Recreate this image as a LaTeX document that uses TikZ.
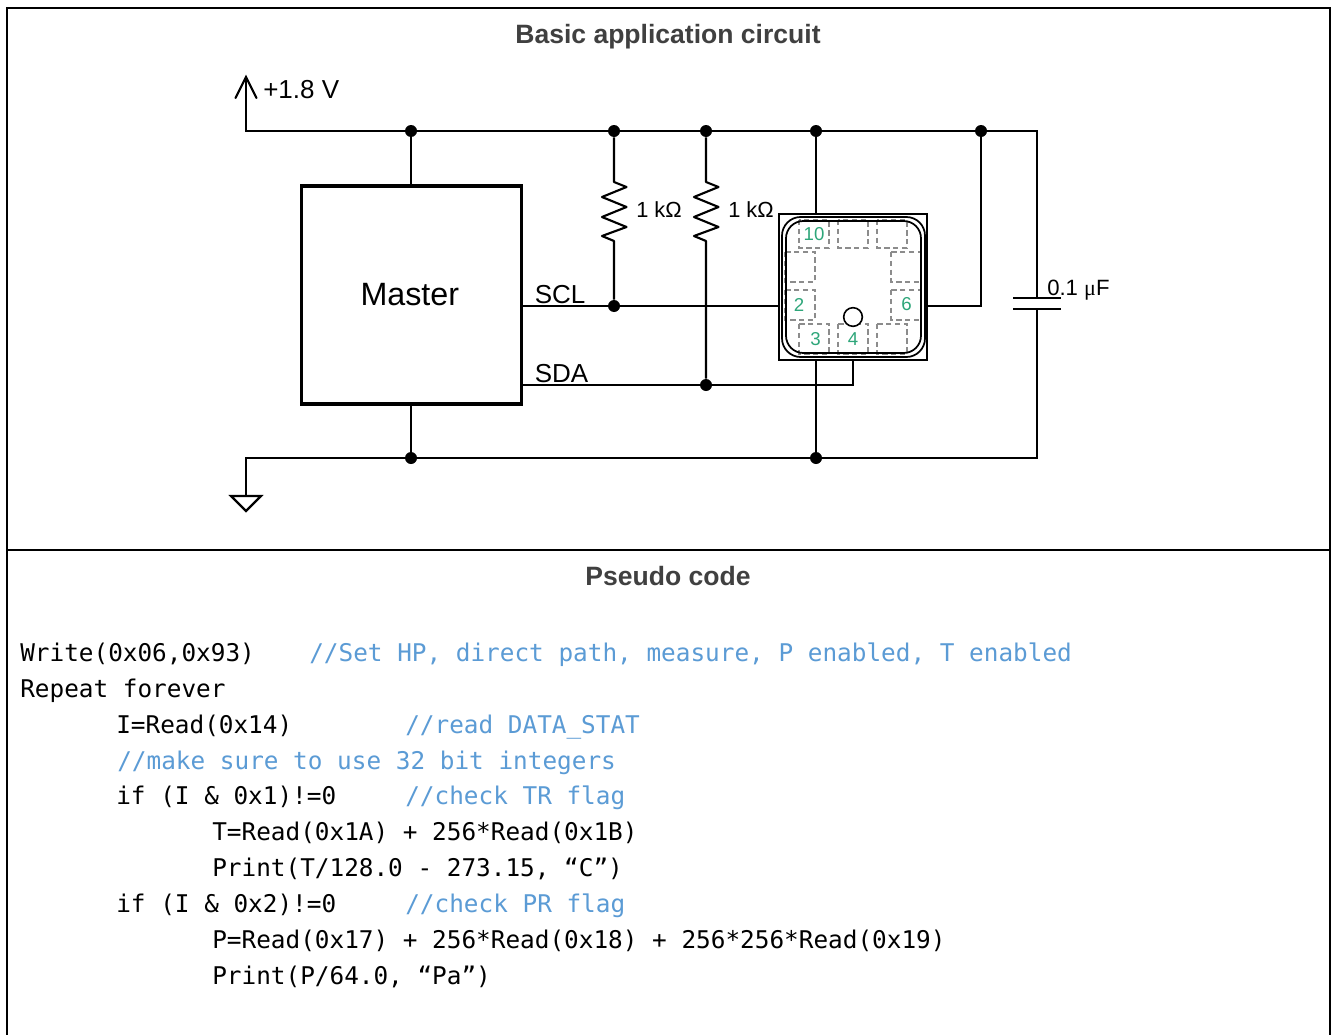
\documentclass[tikz,border=0pt]{standalone}
\usepackage{fontspec}
\setmainfont{Liberation Sans}
\newfontfamily\codefont{DejaVu Sans Mono}
\newfontfamily\serifmu{Liberation Serif}
\definecolor{cmt}{HTML}{5B9BD5}
\definecolor{pin}{HTML}{2EA67A}
\definecolor{pad}{HTML}{8C8C8C}
\definecolor{head}{HTML}{404040}
\tikzset{
  x=0.75pt,y=-0.75pt,
  wire/.style={line width=1.6pt,line cap=rect,line join=miter},
  dot/.style={circle,fill=black,inner sep=0pt,minimum size=9pt},
  frame/.style={line width=1.1pt},
  pad box/.style={draw=pad,line width=0.8pt,dash pattern=on 4pt off 2.6pt},
  pin no/.style={text=pin,font=\fontsize{14pt}{16pt}\selectfont,inner sep=0pt},
  title/.style={text=head,font=\bfseries\fontsize{#1}{22pt}\selectfont,inner sep=0pt},
  lbl/.style={anchor=base west,inner sep=0pt},
  code/.style={anchor=base west,inner sep=0pt,font=\codefont\fontsize{18.27pt}{22pt}\selectfont},
  comment/.style={code,text=cmt},
}
\begin{document}
\begin{tikzpicture}
\useasboundingbox[fill=white] (0,0) rectangle (1332,1035);
% frame
\draw[frame] (7,1035) -- (7,8) -- (1330,8) -- (1330,1035);
\draw[frame] (7,550) -- (1330,550);
\node[title=19.9pt] (t1) at (668,36.5) {Basic application circuit};
\node[title=19.9pt] (t2) at (668,576) {Pseudo code};
% junctions
\node[dot] (j1) at (411,131) {};
\node[dot] (j2) at (614,131) {};
\node[dot] (j3) at (706,131) {};
\node[dot] (j4) at (816,131) {};
\node[dot] (j5) at (981,131) {};
\node[dot] (j6) at (614,306) {};
\node[dot] (j7) at (706,385) {};
\node[dot] (j8) at (411,458) {};
\node[dot] (j9) at (816,458) {};
% free coordinates
\coordinate (vcc) at (246,77);
\coordinate (vcc corner) at (246,131);
\coordinate (rail end) at (1037,131);
\coordinate (gnd corner) at (246,458);
\coordinate (gnd end) at (1037,458);
\coordinate (gnd top) at (246,496);
\coordinate (cap top) at (1037,298);
\coordinate (cap bot) at (1037,309);
% master
\node[draw,line width=2.6pt,minimum width=165pt,minimum height=163.5pt,inner sep=0pt,anchor=center,font=\fontsize{24.2pt}{28pt}\selectfont] (master) at (411.5,295) {\hspace*{-2.5pt}Master};
% sensor
\node[draw,line width=1.5pt,minimum width=111pt,minimum height=109.5pt,inner sep=0pt] (sensor) at (853,287) {};
\coordinate (m scl) at (522,306);
\coordinate (m sda) at (522,385);
\coordinate (s scl) at (779,306);
\coordinate (s r) at (927,306);
\coordinate (s r c) at (981,306);
\coordinate (s t) at (816,214);
\coordinate (s b) at (816,360);
\coordinate (s sda up) at (853,360);
\coordinate (s sda c) at (853,385);
% wires
\draw[wire] (vcc) -- (vcc corner) -- (rail end) -- (cap top);
\draw[wire] (cap bot) -- (gnd end) -- (gnd corner) -- (gnd top);
\draw[wire,line cap=round] (235.5,98) -- (vcc) -- (256.5,98);
\draw[wire] (j1) -- (master.north -| j1);
\draw[wire] (master.south -| j8) -- (j8);
\draw[wire] (m scl) -- (s scl);
\draw[wire] (m sda) -- (s sda c) -- (s sda up);
\draw[wire] (j4) -- (s t);
\draw[wire] (s b) -- (j9);
\draw[wire] (s r) -- (s r c) -- (j5);
% resistors
\foreach \nm/\xx/\jt/\jb in {a/614/j2/j6,b/706/j3/j7}{
  \draw[wire,line join=round,line cap=butt] (\jt) -- (\xx,182) -- (\xx+12.5,187) -- (\xx-12,197) -- (\xx+12.5,207) -- (\xx-12,217) -- (\xx+12.5,227) -- (\xx-12,236) -- (\xx,241) -- (\jb);
}
% capacitor
\draw[wire,line cap=butt] (1013,298) -- (1061,298);
\draw[wire,line cap=butt] (1013,309) -- (1061,309);
% ground
\draw[wire,line join=miter] (231,496) -- (261,496) -- (246,511) -- cycle;
% sensor inside
\foreach \x in {799,838,877}{
  \draw[pad box] (\x,220) rectangle (\x+30,248);
  \draw[pad box] (\x,324) rectangle (\x+30,354);
}
\foreach \y in {252,290}{
  \draw[pad box] (785,\y) rectangle (815,\y+30);
  \draw[pad box] (891,\y) rectangle (921,\y+30);
}
\draw[line width=1.3pt,rounded corners=14pt] (782,217) rectangle (925,357);
\draw[line width=1.3pt,rounded corners=13pt] (786,221) rectangle (921,353);
\node[draw,circle,fill=white,line width=1.2pt,minimum size=14pt,inner sep=0pt] (hole) at (853,317) {};
\node[pin no] (p10) at (814,234) {10};
\node[pin no] (p2) at (799,305) {2};
\node[pin no] (p6) at (906.5,304) {6};
\node[pin no] (p3) at (815.5,339) {3};
\node[pin no] (p4) at (853,339) {4};
% labels
\node[lbl,font=\fontsize{19.5pt}{22pt}\selectfont] (v) at (263,98) {+1.8 V};
\node[lbl,font=\fontsize{19.5pt}{22pt}\selectfont] (scl) at (534.5,303) {SCL};
\node[lbl,font=\fontsize{19.5pt}{22pt}\selectfont] (sda) at (534.5,382) {SDA};
\node[lbl,font=\fontsize{16.4pt}{18pt}\selectfont] (r1) at (636,217) {1 k\symbol{"03A9}};
\node[lbl,font=\fontsize{16.4pt}{18pt}\selectfont] (r2) at (728,217) {1 k\symbol{"03A9}};
\node[lbl,font=\fontsize{16.6pt}{18pt}\selectfont] (c1) at (1047,295) {0.1 {\serifmu\symbol{"03BC}}F};
% code
\foreach \i/\xx/\yy/\txt in {
 a/20/661/{Write(0x06,0x93)},
 b/20/697/{Repeat forever},
 c/116/733/{I=Read(0x14)},
 d/116/804/{if (I \& 0x1)!=0},
 e/212/840/{T=Read(0x1A) + 256*Read(0x1B)},
 f/212/876/{Print(T/128.0 - 273.15, “C”)},
 g/116/912/{if (I \& 0x2)!=0},
 h/212/948/{P=Read(0x17) + 256*Read(0x18) + 256*256*Read(0x19)},
 i/212/984/{Print(P/64.0, “Pa”)}}{
  \node[code] (code\i) at (\xx,\yy) {\txt};
}
\foreach \i/\xx/\yy/\txt in {
 a/309/661/{//Set HP, direct path, measure, P enabled, T enabled},
 c/405/733/{//read DATA\_STAT},
 m/117/769/{//make sure to use 32 bit integers},
 d/405/804/{//check TR flag},
 g/405/912/{//check PR flag}}{
  \node[comment] (cm\i) at (\xx,\yy) {\txt};
}
\end{tikzpicture}
\end{document}
